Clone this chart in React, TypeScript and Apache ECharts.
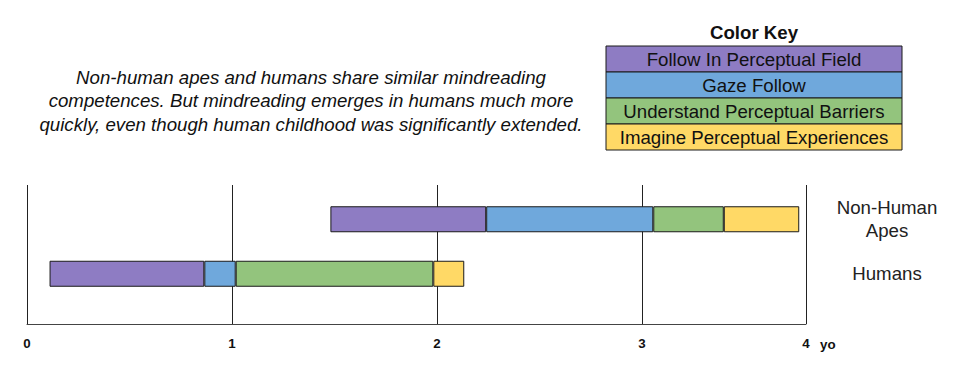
import React, { useEffect, useRef } from "react";
import * as echarts from "echarts";

const categories = ["Humans", "Non-Human\nApes"];
const phases = [
  "Follow In Perceptual Field",
  "Gaze Follow",
  "Understand Perceptual Barriers",
  "Imagine Perceptual Experiences",
];
const phaseColors = ["#8e7cc3", "#6fa8dc", "#93c47d", "#ffd966"];
// Phase boundaries in years (start, then the end of each phase)
const humanBoundaries = [0.11, 0.865, 1.018, 1.982, 2.133];
const apeBoundaries = [1.48, 2.24, 3.055, 3.399, 3.767];
const tickValues = [0, 1, 2, 3, 3.8];
const tickLabels = ["0", "1", "2", "3", "4"];
const axisUnit = "yo";
const description =
  "Non-human apes and humans share similar mindreading\ncompetences. But mindreading emerges in humans much more\nquickly, even though human childhood was significantly extended.";
const keyTitle = "Color Key";

const FONT = "'Liberation Sans', Arial, sans-serif";
const BIG = 18.67;

export default function App() {
  const ref = useRef<HTMLDivElement>(null);
  useEffect(() => {
    if (!ref.current) return;
    const chart = echarts.init(ref.current, undefined, { renderer: "svg" });

    const boundarySets = [humanBoundaries, apeBoundaries];
    const series: any[] = [
      {
        name: "offset",
        type: "bar",
        stack: "t",
        xAxisIndex: 1,
        yAxisIndex: 1,
        barWidth: 26,
        silent: true,
        itemStyle: { color: "transparent", borderWidth: 0 },
        data: boundarySets.map((b) => b[0]),
      },
      ...phases.map((p, i) => ({
        name: p,
        type: "bar",
        stack: "t",
        xAxisIndex: 1,
        yAxisIndex: 1,
        barWidth: 26,
        itemStyle: {
          color: phaseColors[i],
          borderColor: "#1a1a1a",
          borderWidth: 1,
        },
        data: boundarySets.map((b) => +(b[i + 1] - b[i]).toFixed(4)),
      })),
    ];

    const keyX = 606;
    const keyW = 296;
    const keyTop = 46;
    const rowH = 26;
    const graphic: any[] = [
      {
        type: "text",
        x: 311,
        y: 100.5,
        style: {
          text: description,
          fontFamily: FONT,
          fontStyle: "italic",
          fontSize: BIG,
          lineHeight: 23.5,
          fill: "#111",
          align: "center",
          verticalAlign: "middle",
        },
      },
      {
        type: "text",
        x: 754,
        y: 32,
        style: {
          text: keyTitle,
          fontFamily: FONT,
          fontWeight: "bold",
          fontSize: BIG,
          fill: "#111",
          align: "center",
          verticalAlign: "middle",
        },
      },
      ...phases.map((p, i) => ({
        type: "rect",
        shape: { x: keyX, y: keyTop + i * rowH, width: keyW, height: rowH },
        style: { fill: phaseColors[i], stroke: "#1a1a1a", lineWidth: 1 },
      })),
      ...phases.map((p, i) => ({
        type: "text",
        x: keyX + keyW / 2,
        y: keyTop + i * rowH + rowH / 2,
        style: {
          text: p,
          fontFamily: FONT,
          fontSize: BIG,
          fill: "#111",
          align: "center",
          verticalAlign: "middle",
        },
      })),
    ];

    chart.setOption({
      animation: false,
      grid: [
        { left: 27, right: 154, top: 185, bottom: 44 },
        { left: 27, right: 154, top: 192, height: 109 },
      ],
      xAxis: [
        {
          type: "value",
          gridIndex: 0,
          min: 0,
          max: tickValues[tickValues.length - 1],
          interval: 1,
          name: axisUnit,
          nameLocation: "end",
          nameGap: 14,
          nameTextStyle: {
            fontFamily: FONT,
            fontWeight: "bold",
            fontSize: 13.33,
            color: "#111",
            verticalAlign: "top",
            padding: [14, 0, 0, 0],
          },
          axisLine: { show: true, lineStyle: { color: "#444", width: 1 } },
          axisTick: { show: false },
          splitLine: { show: true, lineStyle: { color: "#222", width: 1 } },
          axisLabel: {
            show: true,
            margin: 13,
            showMinLabel: true,
            showMaxLabel: true,
            fontFamily: FONT,
            fontWeight: "bold",
            fontSize: 13.33,
            color: "#111",
            formatter: (v: number) => {
              const idx = tickValues.findIndex((t) => Math.abs(t - v) < 1e-6);
              return idx >= 0 ? tickLabels[idx] : "";
            },
          },
        },
        {
          type: "value",
          gridIndex: 1,
          min: 0,
          max: tickValues[tickValues.length - 1],
          show: false,
          splitLine: { show: false },
        },
      ],
      yAxis: [
        { type: "value", gridIndex: 0, show: false, splitLine: { show: false } },
        {
          type: "category",
          gridIndex: 1,
          data: categories,
          position: "right",
          axisLine: { show: false },
          axisTick: { show: false },
          splitLine: { show: false },
          axisLabel: {
            margin: 81,
            align: "center",
            fontFamily: FONT,
            fontSize: BIG,
            lineHeight: 23,
            color: "#222",
          },
        },
      ],
      series,
      graphic,
    });
    return () => chart.dispose();
  }, []);

  return (
    <div
      ref={ref}
      style={{ position: "fixed", left: 0, top: 0, width: 960, height: 368, background: "#fff" }}
    />
  );
}
